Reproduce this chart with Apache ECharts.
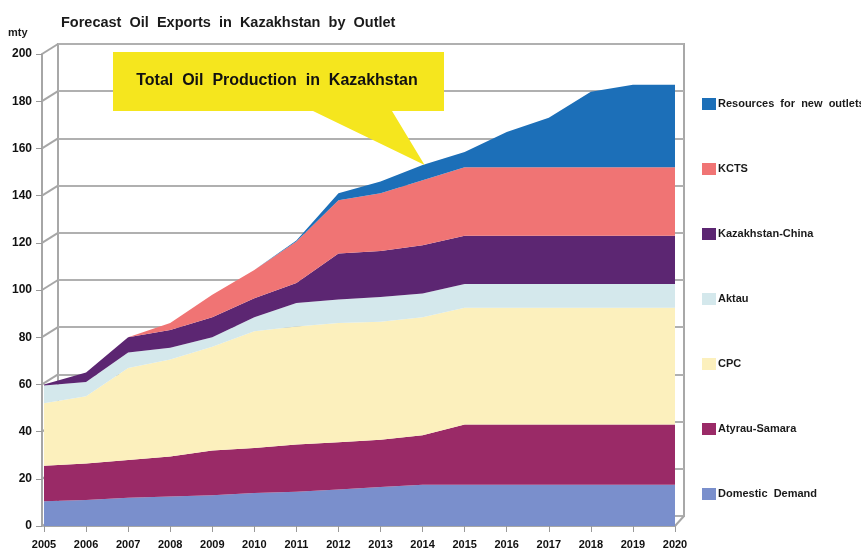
<!DOCTYPE html>
<html>
<head>
<meta charset="utf-8">
<title>Forecast Oil Exports in Kazakhstan by Outlet</title>
<script src="https://cdn.jsdelivr.net/npm/echarts@6/dist/echarts.min.js"></script>
<style>
    html, body { margin: 0; padding: 0; background: #ffffff; }
    #main { width: 861px; height: 553px; }
</style>
</head>
<body>
<div id="main"></div>
<script>
// categories and values (mty)
var years = ['2005', '2006', '2007', '2008', '2009', '2010', '2011', '2012',
             '2013', '2014', '2015', '2016', '2017', '2018', '2019', '2020'];
var yTicks = [0, 20, 40, 60, 80, 100, 120, 140, 160, 180, 200];

var domesticDemand  = [10.5, 11, 12, 12.5, 13, 14, 14.5, 15.5, 16.5, 17.5, 17.5, 17.5, 17.5, 17.5, 17.5, 17.5];
var atyrauSamara    = [15, 15.5, 16, 17, 19, 19, 20, 20, 20, 21, 25.5, 25.5, 25.5, 25.5, 25.5, 25.5];
var cpc             = [26.5, 28.5, 39, 41, 44, 49.5, 50, 50.5, 50, 50, 49.5, 49.5, 49.5, 49.5, 49.5, 49.5];
var aktau           = [7.5, 6, 6.5, 5, 4, 6, 10, 10, 10.5, 10, 10, 10, 10, 10, 10, 10];
var kazakhstanChina = [0.5, 4, 6.5, 7.5, 8.5, 8, 8.5, 19.5, 19.5, 20.5, 20.5, 20.5, 20.5, 20.5, 20.5, 20.5];
var kcts            = [0, 0, 0, 3, 9.5, 12, 17.5, 22.5, 24.5, 27.5, 29, 29, 29, 29, 29, 29];
var newOutlets      = [0, 0, 0, 0, 0, 0, 0.5, 3, 5, 6.5, 6.5, 15, 21, 32, 35, 35];

var names = ['Domestic  Demand', 'Atyrau-Samara', 'CPC', 'Aktau', 'Kazakhstan-China', 'KCTS', 'Resources  for  new  outlets'];
var values = [domesticDemand, atyrauSamara, cpc, aktau, kazakhstanChina, kcts, newOutlets];
var colors = ['#7a8fcc', '#9a2a67', '#fcf0bd', '#d4e8ec', '#5c2672', '#f07474', '#1c6fb8'];

var chart = echarts.init(document.getElementById('main'));

var series = [];
for (var i = 0; i < names.length; i++) {
    series.push({
        name: names[i],
        type: 'line',
        stack: 'total',
        xAxisIndex: 0,
        yAxisIndex: 0,
        symbol: 'none',
        z: 5,
        lineStyle: {width: 0},
        areaStyle: {color: colors[i], opacity: 1},
        itemStyle: {color: colors[i]},
        data: values[i]
    });
}

var option = {
    backgroundColor: '#ffffff',
    animation: false,
    title: {
        text: 'Forecast  Oil  Exports  in  Kazakhstan  by  Outlet',
        left: 56,
        top: 10,
        textStyle: {
            fontFamily: 'Liberation Sans',
            fontWeight: 'bold',
            fontSize: 14.5,
            color: '#1a1a1a'
        }
    },
    legend: {
        orient: 'vertical',
        left: 697,
        top: 93,
        itemGap: 53,
        itemWidth: 14,
        itemHeight: 12,
        icon: 'rect',
        data: names.slice().reverse(),
        textStyle: {
            fontFamily: 'Liberation Sans',
            fontWeight: 'bold',
            fontSize: 11,
            color: '#1a1a1a',
            padding: [0, 0, 0, -3]
        }
    },
    grid: [
        {left: 44, right: 186, top: 54, bottom: 27},              // front, data
        {left: 58, right: 177, top: 44, bottom: 37, show: true,   // back wall
         borderColor: '#a8a8a8', borderWidth: 2}
    ],
    xAxis: [
        {
            gridIndex: 0,
            type: 'category',
            data: years,
            boundaryGap: false,
            axisLine: {lineStyle: {color: '#a6a6a6', width: 2}},
            axisTick: {length: 6, lineStyle: {color: '#999999'}},
            axisLabel: {
                interval: 0, margin: 13, color: '#111111',
                fontFamily: 'Liberation Sans', fontWeight: 'bold', fontSize: 11
            },
            splitLine: {show: false}
        },
        {gridIndex: 1, type: 'category', data: years, boundaryGap: false, show: false}
    ],
    yAxis: [
        {
            gridIndex: 0,
            type: 'value',
            min: 0,
            max: 200,
            interval: 20,
            offset: 2,
            axisLine: {show: true, lineStyle: {color: '#a6a6a6', width: 2}},
            axisTick: {show: true, length: 6, lineStyle: {color: '#999999'}},
            axisLabel: {
                margin: 10, color: '#111111',
                fontFamily: 'Liberation Sans', fontWeight: 'bold', fontSize: 12
            },
            splitLine: {show: false}
        },
        {
            gridIndex: 1,
            type: 'value',
            min: 0,
            max: 200,
            interval: 20,
            axisLine: {show: false},
            axisTick: {show: false},
            axisLabel: {show: false},
            splitLine: {lineStyle: {color: '#b0b0b0', width: 2}}
        }
    ],
    series: series
};
chart.setOption(option);

// 3d frame: side wall lines joining the front axis to the back wall
var graphics = [];
yTicks.forEach(function (v) {
    var f = chart.convertToPixel({gridIndex: 0}, [years[0], v]);
    var b = chart.convertToPixel({gridIndex: 1}, [years[0], v]);
    graphics.push({
        type: 'line', z: 1,
        shape: {x1: f[0] - 2, y1: f[1], x2: b[0], y2: b[1]},
        style: {stroke: '#a6a6a6', lineWidth: 2}
    });
});
var last = years[years.length - 1];
var fr = chart.convertToPixel({gridIndex: 0}, [last, 0]);
var br = chart.convertToPixel({gridIndex: 1}, [last, 0]);
graphics.push({
    type: 'line', z: 1,
    shape: {x1: fr[0], y1: fr[1], x2: br[0], y2: br[1]},
    style: {stroke: '#a6a6a6', lineWidth: 2}
});

// callout pointing at total production in 2014
var k = years.indexOf('2014');
var total2014 = 0;
values.forEach(function (arr) { total2014 += arr[k]; });
var tip = chart.convertToPixel({gridIndex: 0}, ['2014', total2014]);
graphics.push({
    type: 'polygon', z: 100,
    shape: {points: [[113, 52], [444, 52], [444, 111], [392, 111], [tip[0] + 2, tip[1]], [313, 111], [113, 111]]},
    style: {fill: '#f5e61e'}
});
graphics.push({
    type: 'text', z: 101,
    x: 277, y: 81,
    style: {
        text: 'Total  Oil  Production  in  Kazakhstan',
        fontFamily: 'Liberation Sans', fontWeight: 'bold', fontSize: 16,
        fill: '#111111', align: 'center', verticalAlign: 'middle'
    }
});
graphics.push({
    type: 'text', z: 101,
    x: 8, y: 27,
    style: {
        text: 'mty',
        fontFamily: 'Liberation Sans', fontWeight: 'bold', fontSize: 11,
        fill: '#1a1a1a'
    }
});
chart.setOption({graphic: graphics});

window.addEventListener('resize', function () {
    chart.resize();
});
</script>
</body>
</html>
